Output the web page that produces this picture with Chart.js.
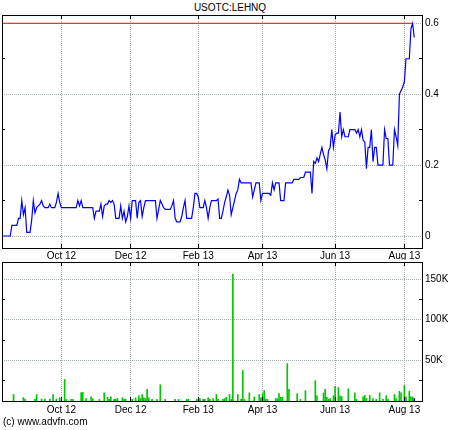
<!DOCTYPE html>
<html>
<head>
<meta charset="utf-8">
<title>USOTC:LEHNQ</title>
<script src="https://cdn.jsdelivr.net/npm/chart.js@4.4.1/dist/chart.umd.min.js"></script>
<style>
  body { margin: 0; background: #fff; }
  #wrap { position: relative; width: 460px; height: 430px; font-family: 'Liberation Sans', Arial, sans-serif; color: #000; }
  #wrap canvas { position: absolute; left: 0; top: 0; }
  .title { position: absolute; top: 2px; left: 0; width: 460px; text-align: center; font-size: 10px; }
  .credit { position: absolute; left: 3px; top: 416px; font-size: 10px; }
</style>
</head>
<body>
<div id="wrap">
  <div class="title">USOTC:LEHNQ</div>
  <canvas id="priceCanvas" width="460" height="430"></canvas>
  <canvas id="volCanvas" width="460" height="430"></canvas>
  <div class="credit">(c) www.advfn.com</div>
</div>
<script>
// month labels and the trading-day index where each month starts
const xLabels = ['Oct 12', 'Dec 12', 'Feb 13', 'Apr 13', 'Jun 13', 'Aug 13'];
const xTickDays = [36, 78, 119, 158, 202, 244];

const priceTicks = [0, 0.2, 0.4, 0.6];
const priceMinor = [0.1, 0.3, 0.5];
const volTicks = [50000, 100000, 150000];
const volMinor = [25000, 75000, 125000];

// daily close, one value per trading day
const price = [
  0, 0, 0, 0, 0, 0, 0.03, 0.03, 0.03, 0.03,
  0.05, 0.05, 0.10, 0.06, 0.08, 0.01, 0.01, 0.01, 0.045, 0.10,
  0.065, 0.08, 0.085, 0.09, 0.10, 0.085, 0.08, 0.08, 0.08, 0.09,
  0.08, 0.08, 0.08, 0.095, 0.12, 0.095, 0.08, 0.08, 0.08, 0.08,
  0.08, 0.08, 0.08, 0.08, 0.08, 0.08, 0.10, 0.085, 0.10, 0.08,
  0.08, 0.08, 0.08, 0.08, 0.08, 0.08, 0.05, 0.07, 0.07, 0.07,
  0.09, 0.055, 0.085, 0.09, 0.09, 0.10, 0.095, 0.10, 0.09, 0.05,
  0.05, 0.05, 0.085, 0.05, 0.07, 0.04, 0.055, 0.085, 0.05, 0.10,
  0.10, 0.10, 0.05, 0.095, 0.10, 0.055, 0.08, 0.10, 0.10, 0.10,
  0.10, 0.10, 0.10, 0.10, 0.05, 0.075, 0.10, 0.09, 0.08, 0.075,
  0.075, 0.075, 0.075, 0.085, 0.10, 0.05, 0.04, 0.04, 0.04, 0.055,
  0.08, 0.10, 0.05, 0.05, 0.05, 0.05, 0.08, 0.12, 0.12, 0.11,
  0.08, 0.08, 0.08, 0.10, 0.08, 0.05, 0.08, 0.10, 0.10, 0.10,
  0.10, 0.105, 0.05, 0.05, 0.07, 0.095, 0.11, 0.13, 0.115, 0.06,
  0.08, 0.10, 0.12, 0.13, 0.16, 0.15, 0.15, 0.15, 0.15, 0.15,
  0.15, 0.15, 0.11, 0.13, 0.15, 0.15, 0.15, 0.10, 0.12, 0.12,
  0.12, 0.12, 0.12, 0.115, 0.15, 0.13, 0.15, 0.15, 0.15, 0.10,
  0.10, 0.10, 0.15, 0.15, 0.15, 0.15, 0.15, 0.16, 0.16, 0.16,
  0.16, 0.165, 0.165, 0.165, 0.18, 0.18, 0.18, 0.18, 0.12, 0.21,
  0.205, 0.22, 0.21, 0.23, 0.25, 0.23, 0.215, 0.19, 0.24, 0.25,
  0.30, 0.25, 0.285, 0.29, 0.29, 0.35, 0.28, 0.30, 0.28, 0.28,
  0.28, 0.30, 0.30, 0.30, 0.30, 0.29, 0.30, 0.28, 0.30, 0.27,
  0.265, 0.19, 0.25, 0.25, 0.30, 0.21, 0.25, 0.25, 0.20, 0.20,
  0.20, 0.20, 0.30, 0.275, 0.275, 0.20, 0.20, 0.20, 0.30, 0.28,
  0.255, 0.40, 0.41, 0.42, 0.435, 0.50, 0.50, 0.50, 0.585, 0.60, 0.56
];

// volume: trading-day index and shares (thousands) on days that traded
const volDay = [
  7, 13, 14, 20, 21, 24, 26, 29, 31, 33,
  35, 38, 39, 42, 43, 48, 49, 51, 54, 55,
  59, 62, 64, 65, 66, 68, 69, 70, 73, 74,
  75, 79, 81, 83, 84, 85, 86, 87, 88, 89,
  91, 94, 96, 99, 105, 107, 112, 113, 118, 119,
  120, 122, 123, 125, 126, 128, 130, 131, 134, 135,
  136, 138, 139, 140, 143, 145, 146, 147, 150, 153,
  156, 157, 158, 159, 160, 161, 166, 167, 168, 169,
  170, 173, 174, 179, 181, 184, 190, 191, 195, 196,
  197, 198, 199, 201, 202, 204, 205, 206, 210, 214,
  215, 219, 220, 221, 223, 225, 227, 229, 231, 233,
  234, 238, 239, 241, 242, 244, 245, 247, 248, 249,
  250
];
const volume = [
  8, 4.3, 2.5, 2.5, 8, 2.5, 2.5, 2.5, 8, 2.5,
  4, 26.5, 2, 2, 2, 10.5, 10.5, 3, 5, 3,
  2, 10, 4.5, 2, 5, 2, 2, 3, 4, 2,
  2, 2, 4, 6.5, 3, 8, 4, 3, 14.5, 4,
  2, 2, 20, 2, 2, 2, 2, 2, 2, 2,
  3, 2, 2, 4, 2, 3, 8, 2, 2, 3,
  4.5, 8, 2, 156, 8, 2, 37.6, 2, 10, 5,
  8, 4, 9, 12.8, 2, 2, 3, 3, 9, 4.5,
  4.5, 46, 14.5, 9, 2, 12.8, 25, 6.5, 10, 14.5,
  4.5, 2, 3, 6.5, 18, 16.5, 6.5, 5.5, 15, 10,
  2, 5, 7, 3, 7, 3, 2, 10, 2, 6.5,
  2, 8, 3, 12, 10, 19, 5, 12, 5, 5,
  3
];

const X_MAX = 254.7;
const gridColor = '#a2b0b0';
const labelFont = { family: "'Liberation Sans', Arial, sans-serif", size: 10 };

const priceHigh = Math.max(...price);
const highDay = price.indexOf(priceHigh);

// black frame, inner month ticks and inner minor y ticks
const framePlugin = {
  id: 'frame',
  afterDraw(chart, args, opts) {
    const { ctx, chartArea: a, scales } = chart;
    const align = p => Math.round(p - 0.5) + 0.5;
    ctx.save();
    ctx.strokeStyle = '#000';
    ctx.lineWidth = 1;
    ctx.beginPath();
    xTickDays.forEach(d => {
      const x = align(scales.x.getPixelForValue(d));
      ctx.moveTo(x, a.top); ctx.lineTo(x, a.top + 4);
      ctx.moveTo(x, a.bottom); ctx.lineTo(x, a.bottom - 4);
    });
    opts.minor.forEach(v => {
      const y = align(scales.y.getPixelForValue(v));
      ctx.moveTo(a.left, y); ctx.lineTo(a.left + 3, y);
      ctx.moveTo(a.right, y); ctx.lineTo(a.right - 3, y);
    });
    ctx.stroke();
    ctx.strokeRect(align(a.left), align(a.top), Math.round(a.right - a.left), Math.round(a.bottom - a.top));
    ctx.restore();
  }
};

function xScale(axisHeight, pad) {
  return {
    type: 'linear', min: 0, max: X_MAX, offset: false,
    afterBuildTicks: s => { s.ticks = xTickDays.map(v => ({ value: v })); },
    afterFit: s => { s.height = axisHeight; },
    ticks: {
      callback: v => xLabels[xTickDays.indexOf(v)],
      color: '#000', font: labelFont, padding: pad, maxRotation: 0, autoSkip: false
    },
    grid: { color: gridColor, drawTicks: false, offset: false },
    border: { display: false, dash: [1, 1] }
  };
}

function yScale(min, max, ticks, fmt) {
  return {
    position: 'right', min: min, max: max,
    afterBuildTicks: s => { s.ticks = ticks.map(v => ({ value: v })); },
    afterFit: s => { s.width = 38; },
    ticks: { callback: fmt, color: '#000', font: labelFont, padding: 3 },
    grid: { color: gridColor, drawTicks: false },
    border: { display: false, dash: [1, 1] }
  };
}

new Chart(document.getElementById('priceCanvas'), {
  type: 'line',
  data: {
    datasets: [{
      data: price.map((v, i) => ({ x: i, y: v })),
      borderColor: '#0000ff', borderWidth: 1.2, pointRadius: 0, tension: 0, order: 1
    }, {
      data: [{ x: 0, y: priceHigh }, { x: highDay, y: priceHigh }],
      borderColor: '#ff0000', borderWidth: 1, pointRadius: 0, order: 2
    }]
  },
  options: {
    responsive: false, animation: false, events: [],
    layout: { padding: { left: 2, top: 15, right: 0, bottom: 170 }, autoPadding: false },
    plugins: { legend: { display: false }, tooltip: { enabled: false }, frame: { minor: priceMinor } },
    scales: {
      x: xScale(12, 2),
      y: yScale(-0.0338, 0.6234, priceTicks, v => v === 0 ? '0' : v.toFixed(1))
    }
  },
  plugins: [framePlugin]
});

new Chart(document.getElementById('volCanvas'), {
  type: 'bar',
  data: {
    datasets: [{
      data: volDay.map((d, k) => ({ x: d, y: volume[k] * 1000 })),
      backgroundColor: volDay.map((d, k) => k === volDay.length - 1 ? '#0000ff' : '#00c800'),
      barThickness: 1, borderWidth: 0
    }]
  },
  options: {
    responsive: false, animation: false, events: [],
    layout: { padding: { left: 2, top: 262, right: 0, bottom: 0 }, autoPadding: false },
    plugins: { legend: { display: false }, tooltip: { enabled: false }, frame: { minor: volMinor } },
    scales: {
      x: xScale(29, 3),
      y: yScale(0, 171000, volTicks, v => (v / 1000) + 'K')
    }
  },
  plugins: [framePlugin]
});
</script>
</body>
</html>
